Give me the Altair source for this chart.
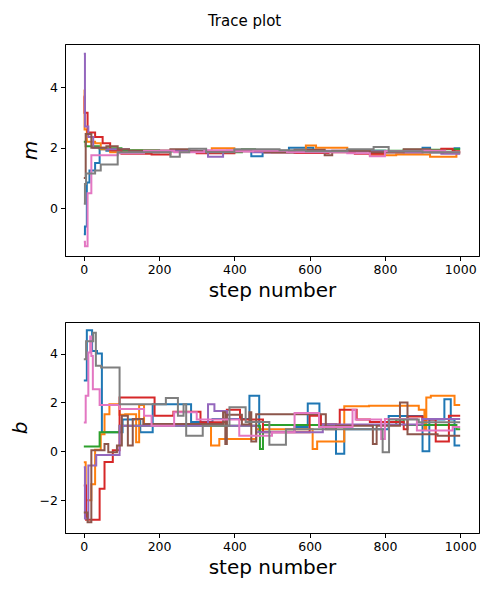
import altair as alt
import pandas as pd

WALKERS = ["0", "1", "2", "3", "4", "5", "6", "7"]
COLORS = ["#1f77b4", "#ff7f0e", "#2ca02c", "#d62728",
          "#9467bd", "#8c564b", "#e377c2", "#7f7f7f"]
X_TICKS = [0, 200, 400, 600, 800, 1000]
M_TICKS = [0, 2, 4]
B_TICKS = [-2, 0, 2, 4]

# (step, value) breakpoints of each walker's chain for parameter m
m_0 = [(0, -0.85), (3, -0.6), (8, 0.85), (15, 1.25), (30, 1.5), (42, 1.95), (60, 1.9), (120, 1.85),
       (200, 1.88), (300, 1.85), (380, 1.9), (445, 1.72), (475, 1.85), (545, 2.0), (610, 1.88),
       (700, 1.9), (800, 1.85), (900, 2.0), (920, 1.85), (985, 1.98), (1000, 1.98)]
m_1 = [(0, 3.9), (2, 2.6), (8, 2.2), (30, 2.15), (45, 1.95), (70, 1.85), (130, 1.9), (250, 1.88),
       (340, 1.98), (400, 1.9), (500, 1.85), (590, 2.07), (617, 2.0), (700, 1.92), (760, 1.75),
       (830, 1.78), (920, 1.7), (990, 1.82), (1000, 1.82)]
m_2 = [(0, 2.2), (5, 2.05), (40, 1.98), (100, 1.92), (200, 1.88), (300, 1.85), (420, 1.95),
       (455, 1.9), (540, 1.85), (640, 1.88), (750, 1.9), (850, 1.93), (950, 1.95), (1000, 1.95)]
m_3 = [(0, 3.7), (2, 3.15), (10, 2.5), (30, 2.35), (50, 2.15), (70, 1.92), (100, 1.8), (180, 1.78),
       (230, 1.9), (300, 1.82), (400, 1.88), (480, 1.85), (560, 1.83), (650, 1.85), (720, 1.8),
       (800, 1.85), (900, 1.9), (950, 1.97), (980, 1.88), (1000, 1.88)]
m_4 = [(0, 5.1), (3, 2.7), (12, 2.35), (25, 2.0), (60, 1.95), (120, 1.88), (200, 1.9), (330, 1.7),
       (370, 1.88), (450, 1.85), (560, 1.9), (700, 1.88), (850, 1.85), (950, 1.8), (1000, 1.8)]
m_5 = [(0, 1.0), (5, 2.45), (20, 2.0), (60, 2.05), (90, 1.95), (120, 1.9), (230, 1.95), (280, 1.88),
       (400, 1.9), (480, 1.85), (560, 1.93), (640, 1.75), (660, 1.9), (760, 1.85), (850, 1.95),
       (920, 1.85), (1000, 1.85)]
m_6 = [(0, -1.1), (3, -1.25), (10, 0.5), (20, 1.75), (90, 1.82), (160, 1.9), (240, 1.85),
       (320, 1.92), (400, 1.88), (450, 1.9), (540, 1.85), (700, 1.82), (760, 1.72), (800, 1.88),
       (900, 1.9), (960, 1.85), (1000, 1.85)]
m_7 = [(0, 0.15), (3, 0.8), (6, 1.15), (30, 1.25), (45, 1.45), (90, 1.85), (230, 1.7), (255, 1.85),
       (280, 1.97), (325, 1.85), (400, 1.95), (520, 1.92), (590, 1.88), (700, 1.95), (770, 2.02),
       (810, 1.88), (900, 1.85), (1000, 1.85)]

# (step, value) breakpoints of each walker's chain for parameter b
b_0 = [(0, 2.9), (8, 4.95), (22, 4.1), (35, 4.0), (48, 0.78), (103, 1.3), (150, 0.78), (183, 1.93),
       (285, 1.2), (342, 1.32), (440, 2.27), (466, 0.8), (560, 1.0), (595, 1.96), (626, 1.1),
       (670, -0.1), (692, 0.9), (810, 1.45), (900, 0.0), (918, 1.3), (958, 2.13), (975, 1.3),
       (985, 0.24), (1000, 0.24)]
b_1 = [(0, -0.45), (5, -2.0), (20, -1.35), (30, 0.07), (45, 0.7), (55, 1.52), (68, 1.93), (95, 1.5),
       (110, 1.52), (139, 0.37), (147, 1.9), (160, 1.08), (338, 0.24), (360, 0.5), (458, 0.9),
       (608, 0.1), (620, 0.4), (692, 1.84), (758, 1.86), (890, 1.7), (905, 0.9), (910, 2.2),
       (922, 2.27), (985, 1.9), (1000, 1.9)]
b_2 = [(0, 0.2), (42, 0.78), (95, 1.05), (468, 0.1), (476, 1.08), (830, 1.3), (850, 1.08),
       (990, 0.9), (1000, 0.9)]
b_3 = [(0, -1.4), (6, -2.8), (42, -1.53), (55, -0.44), (77, 0.04), (95, 2.2), (188, 1.46),
       (238, 1.62), (310, 1.19), (380, 1.7), (415, 1.3), (476, 0.78), (600, 1.46), (630, 1.1),
       (680, 1.7), (725, 1.3), (760, 1.2), (850, 0.9), (860, 1.43), (900, 1.3), (935, 0.4),
       (970, 1.46), (1000, 1.46)]
b_4 = [(0, -0.65), (3, -2.75), (12, -0.58), (33, -0.15), (95, 1.05), (330, 1.93), (347, 1.65),
       (380, 1.05), (458, 0.78), (635, 1.1), (900, 1.32), (1000, 1.32)]
b_5 = [(0, -2.5), (10, -2.9), (20, 0.04), (55, 0.3), (65, -0.04), (88, 0.24), (101, 1.46),
       (117, 0.24), (130, 1.32), (158, 1.12), (370, 1.6), (376, 0.3), (380, 1.5), (420, 1.1),
       (440, 1.6), (445, 0.4), (458, 1.52), (643, 0.9), (670, 1.05), (768, 0.3), (778, 1.05),
       (840, 2.0), (860, 0.7), (940, 0.64), (1000, 0.64)]
b_6 = [(0, 1.18), (5, 2.27), (12, 4.04), (17, 4.7), (20, 3.9), (24, 2.54), (42, 1.9), (95, 1.73),
       (160, 1.46), (180, 1.05), (240, 1.6), (300, 1.3), (413, 0.64), (500, 0.78), (560, 1.57),
       (625, 1.0), (714, 1.7), (722, 1.3), (785, 1.3), (790, 0.5), (800, 1.32), (885, 0.85),
       (980, 1.0), (1000, 1.0)]
b_7 = [(0, 3.77), (6, 4.5), (25, 4.85), (32, 3.5), (46, 3.43), (95, 1.93), (218, 2.18), (250, 1.46),
       (265, 1.93), (272, 0.64), (316, 1.05), (387, 1.8), (430, 1.2), (493, 0.27), (537, 0.9),
       (794, -0.04), (811, 1.3), (890, 1.19), (1000, 1.19)]

M_CHAINS = [m_0, m_1, m_2, m_3, m_4, m_5, m_6, m_7]
B_CHAINS = [b_0, b_1, b_2, b_3, b_4, b_5, b_6, b_7]


def to_frame(chains):
    rows = []
    for w, chain in zip(WALKERS, chains):
        for s, v in chain:
            rows.append({"step": s, "value": v, "walker": w})
    return pd.DataFrame(rows)


FONT = "DejaVu Sans"


def panel(df, label, domain, ticks, h):
    return alt.Chart(df).mark_line(
        interpolate="step-after", strokeWidth=2, clip=True
    ).encode(
        x=alt.X("step:Q", title="step number",
                scale=alt.Scale(domain=[-50, 1050], nice=False, zero=False),
                axis=alt.Axis(values=X_TICKS, format="d", titlePadding=4)),
        y=alt.Y("value:Q", title=label,
                scale=alt.Scale(domain=domain, nice=False, zero=False),
                axis=alt.Axis(values=ticks, format="d", titleFontStyle="italic",
                              titlePadding=9)),
        color=alt.Color("walker:N", scale=alt.Scale(domain=WALKERS, range=COLORS), legend=None),
        detail="walker:N",
    ).properties(width=414, height=h)


top = panel(to_frame(M_CHAINS), "m", [-1.57, 5.42], M_TICKS, 212)
bottom = panel(to_frame(B_CHAINS), "b", [-3.34, 5.29], B_TICKS, 211)

chart = alt.vconcat(top, bottom, spacing=20).properties(
    title=alt.TitleParams("Trace plot", fontSize=15, font=FONT, fontWeight="normal",
                          anchor="middle", offset=15, color="black"),
    padding={"left": 1, "top": 5, "right": 0, "bottom": 4},
).configure_view(
    stroke="black", strokeWidth=1
).configure_axis(
    grid=False, domainColor="black", tickColor="black", labelColor="black",
    titleColor="black", labelFont=FONT, titleFont=FONT, labelFontSize=12.5,
    titleFontSize=20, titleFontWeight="normal", tickSize=4.5, labelPadding=3,
    domainWidth=1, tickWidth=1
)

chart.save("out.html", embed_options={"renderer": "svg", "actions": False})
